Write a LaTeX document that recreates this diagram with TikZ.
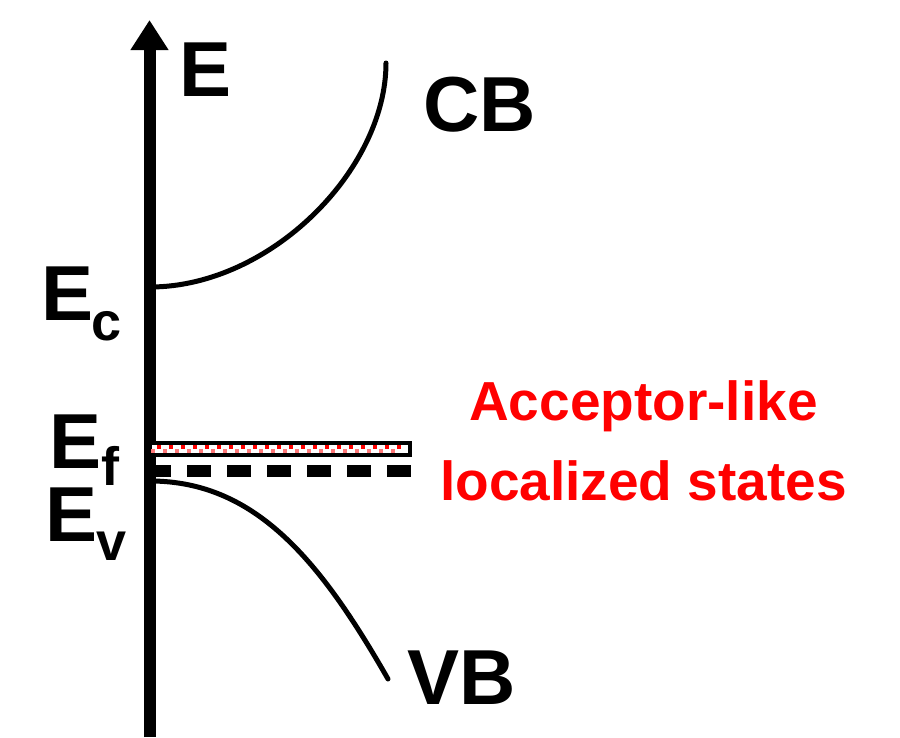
\documentclass[tikz,border=0pt]{standalone}
\usepackage{fontspec}
\setmainfont{Liberation Sans}
\usetikzlibrary{arrows.meta}
\definecolor{dotred}{HTML}{FF0000}
\definecolor{dotpink}{HTML}{FF7878}
\tikzset{
  biglabel/.style={inner sep=0pt, anchor=base west, font=\fontsize{78}{80}\selectfont\bfseries},
  sublabel/.style={inner sep=0pt, anchor=base west, font=\fontsize{54}{56}\selectfont\bfseries},
  redlabel/.style={inner sep=0pt, anchor=base, text=dotred, font=\fontsize{55}{60}\selectfont\bfseries},
  band/.style={line width=5pt, line cap=round},
}
\begin{document}
\begin{tikzpicture}[x=1pt, y=-1pt]
  \useasboundingbox (0,0) rectangle (900,737);
  \fill[white] (0,0) rectangle (900,737);

  % energy axis
  \coordinate (axbot) at (149.5,737);
  \coordinate (axtop) at (149.5,20);
  \draw[line width=12pt, -{Triangle[width=36pt,length=30pt]}] (axbot) -- (axtop);

  % conduction band edge
  \coordinate (cbstart) at (150,287);
  \coordinate (cbend) at (386,63);
  \draw[band] (cbstart) .. controls (270,287) and (386,170) .. (cbend);

  % valence band edge
  \coordinate (vbstart) at (150,481);
  \coordinate (vbend) at (388,679);
  \draw[band] (vbstart) .. controls (255,481) and (320,560) .. (vbend);

  % acceptor-like localized states
  \coordinate (trapA) at (150,441);
  \coordinate (trapB) at (412,457);
  \draw[line width=4pt, fill=white] ([shift={(0,2)}]trapA) rectangle ([shift={(-2,-2)}]trapB);
  \foreach \i in {0,...,20} {
    \fill[dotred] (157+12*\i,445) rectangle ++(4,4);
    \fill[dotpink] (151+12*\i,449) rectangle ++(4,4);
  }

  % Fermi level
  \coordinate (efA) at (147,471);
  \coordinate (efB) at (412,471);
  \draw[line width=12pt, dash pattern=on 24pt off 16pt] (efA) -- (efB);

  % labels
  \node[biglabel] (lE) at (179,96) {E};
  \node[biglabel] (lCB) at (423,131) {CB};
  \node[biglabel] (lVB) at (407,704) {VB};
  \node[biglabel] (lEc) at (41,320) {E};
  \node[sublabel] (lc) at (91,340) {c};
  \node[biglabel] (lEf) at (49,468) {E};
  \node[sublabel] (lf) at (101,485) {f};
  \node[biglabel] (lEv) at (45,541) {E};
  \node[sublabel] (lv) at (96,560) {v};
  \node[redlabel] (acc1) at (643.5,420) {Acceptor-like};
  \node[redlabel] (acc2) at (643.5,500) {localized states};
\end{tikzpicture}
\end{document}
